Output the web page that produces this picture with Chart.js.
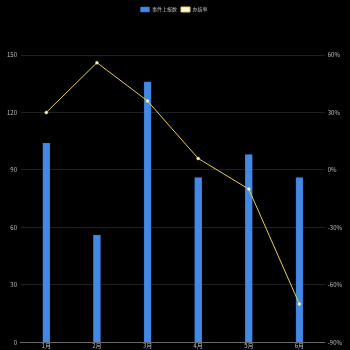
<!DOCTYPE html>
<html>
<head>
<meta charset="utf-8">
<script src="https://cdn.jsdelivr.net/npm/chart.js@4.4.1/dist/chart.umd.min.js"></script>
<style>
  html, body { margin: 0; padding: 0; background: #000; }
  #wrap { width: 350px; height: 350px; }
</style>
</head>
<body>
<div id="wrap"><canvas id="chart"></canvas></div>
<script>
// monthly data
const months = ['1月', '2月', '3月', '4月', '5月', '6月'];
const reportCounts = [104, 56, 136, 86, 98, 86];
const closeRates = [30, 56, 36, 6, -10, -70];

const countTicks = { min: 0, max: 150, step: 30 };
const rateTicks = { min: -90, max: 60, step: 30 };

const FONT = '"Noto Sans CJK SC", "Noto Sans", sans-serif';
const textColor = '#bdbdbd';
const gridColor = '#202020';

// push the plot area down below the legend
const legendGap = {
  id: 'legendGap',
  beforeInit(chart) {
    const origFit = chart.legend.fit;
    chart.legend.fit = function () {
      origFit.bind(chart.legend)();
      this.height += 33;
    };
  }
};

const ctx = document.getElementById('chart').getContext('2d');
new Chart(ctx, {
  type: 'bar',
  data: {
    labels: months,
    datasets: [
      {
        type: 'line',
        label: '办结率',
        data: closeRates,
        yAxisID: 'y2',
        borderColor: '#e3cf4a',
        backgroundColor: '#fff8d8',
        borderWidth: 1,
        pointRadius: 1.5,
        pointBorderWidth: 0.5,
        pointBorderColor: '#e3cf4a',
        pointBackgroundColor: '#fffbe8',
        tension: 0,
        order: 0
      },
      {
        label: '事件上报数',
        data: reportCounts,
        yAxisID: 'y',
        backgroundColor: '#4289e6',
        borderColor: '#2f6cc0',
        borderWidth: 0.5,
        barThickness: 7,
        order: 1
      }
    ]
  },
  options: {
    responsive: true,
    maintainAspectRatio: false,
    animation: false,
    layout: { padding: { left: 3, right: 5, top: 3, bottom: 0 } },
    plugins: {
      legend: {
        position: 'top',
        reverse: true,
        labels: {
          color: textColor,
          font: { family: FONT, size: 5 },
          boxWidth: 9,
          boxHeight: 5,
          padding: 4
        }
      },
      tooltip: { enabled: false }
    },
    scales: {
      x: {
        grid: { display: false, drawTicks: false },
        border: { display: true, color: '#6a6a6a', width: 1 },
        ticks: { color: textColor, font: { family: FONT, size: 6 }, padding: 0 }
      },
      y: {
        position: 'left',
        min: countTicks.min,
        max: countTicks.max,
        grid: { color: gridColor, drawTicks: false },
        border: { display: false },
        ticks: {
          stepSize: countTicks.step,
          color: textColor,
          font: { family: FONT, size: 6 },
          padding: 4
        }
      },
      y2: {
        position: 'right',
        min: rateTicks.min,
        max: rateTicks.max,
        grid: { drawOnChartArea: false, drawTicks: false },
        border: { display: false },
        ticks: {
          stepSize: rateTicks.step,
          color: textColor,
          font: { family: FONT, size: 6 },
          padding: 3,
          callback: (val) => `${val}%`
        }
      }
    }
  },
  plugins: [legendGap]
});
</script>
</body>
</html>
